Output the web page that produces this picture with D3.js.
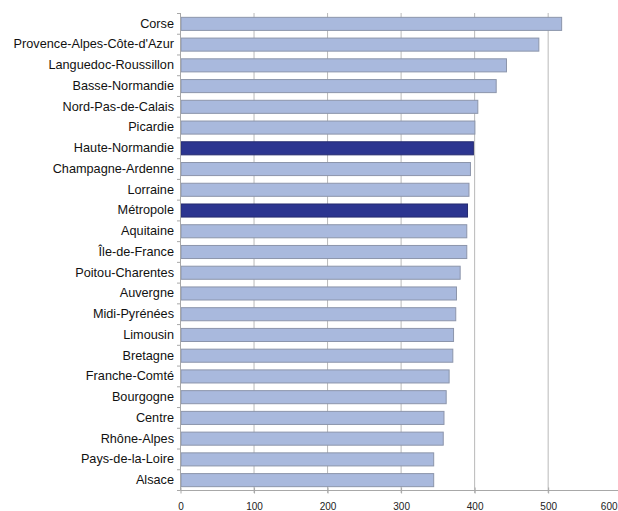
<!DOCTYPE html>
<html>
<head>
<meta charset="utf-8">
<script src="https://cdn.jsdelivr.net/npm/d3@7/dist/d3.min.js"></script>
<style>
  html, body { margin: 0; padding: 0; background: #fff; overflow: hidden; }
  svg { display: block; }
</style>
</head>
<body>
<svg id="chart" width="618" height="511"></svg>
<script>
// Regions, in display order (top to bottom)
const regions = [
  "Corse", "Provence-Alpes-Côte-d'Azur", "Languedoc-Roussillon", "Basse-Normandie",
  "Nord-Pas-de-Calais", "Picardie", "Haute-Normandie", "Champagne-Ardenne",
  "Lorraine", "Métropole", "Aquitaine", "Île-de-France", "Poitou-Charentes",
  "Auvergne", "Midi-Pyrénées", "Limousin", "Bretagne", "Franche-Comté",
  "Bourgogne", "Centre", "Rhône-Alpes", "Pays-de-la-Loire", "Alsace"
];
const values = [
  519, 488, 444, 430,
  405, 401, 399, 395,
  393, 391, 390, 390, 381,
  376, 375, 372, 371, 366,
  362, 359, 358, 345, 345
];
// Regions drawn in the dark highlight colour
const highlighted = ["Haute-Normandie", "Métropole"];
const xTicks = [0, 100, 200, 300, 400, 500, 600];

const svg = d3.select("#chart");
const margin = { left: 180, top: 13, right: 0, bottom: 21 };
const W = 618, H = 511;

const x = d3.scaleLinear().domain([0, 600]).range([margin.left, margin.left + 441.2]);
const y = d3.scaleBand().domain(regions)
  .range([margin.top, H - margin.bottom])
  .paddingInner(0.37).paddingOuter(0.185);

const y0 = margin.top, y1 = H - margin.bottom;

// vertical gridlines
svg.append("g").selectAll("line")
  .data(xTicks.filter(t => t > 0))
  .join("line")
  .attr("x1", d => x(d) + 0.5).attr("x2", d => x(d) + 0.5)
  .attr("y1", y0).attr("y2", y1 + 3)
  .attr("stroke", "#b9b9b9").attr("stroke-width", 1);

// bars
svg.append("g").selectAll("rect")
  .data(regions)
  .join("rect")
  .attr("x", x(0) + 1)
  .attr("y", d => y(d) + 0.5)
  .attr("width", (d, i) => x(values[i]) - x(0) - 1)
  .attr("height", y.bandwidth())
  .attr("fill", d => highlighted.includes(d) ? "#2c3590" : "#a9b9dd")
  .attr("stroke", d => highlighted.includes(d) ? "#262c70" : "#8c95ab")
  .attr("stroke-width", 1);

// left axis line with category separators
const left = svg.append("g");
left.append("line")
  .attr("x1", x(0) + 0.5).attr("x2", x(0) + 0.5)
  .attr("y1", y0).attr("y2", y1)
  .attr("stroke", "#a8a8a8");
left.selectAll("line.sep")
  .data(d3.range(regions.length + 1))
  .join("line").attr("class", "sep")
  .attr("x1", x(0) - 3).attr("x2", x(0) + 0.5)
  .attr("y1", i => y0 + i * (y1 - y0) / regions.length + 0.5)
  .attr("y2", i => y0 + i * (y1 - y0) / regions.length + 0.5)
  .attr("stroke", "#a8a8a8");

// category labels
left.selectAll("text")
  .data(regions)
  .join("text")
  .attr("x", x(0) - 6)
  .attr("y", d => y(d) + y.bandwidth() / 2 + 1)
  .attr("text-anchor", "end")
  .attr("dominant-baseline", "middle")
  .attr("font-family", "Liberation Sans, Arial, sans-serif")
  .attr("font-size", 12.7)
  .attr("fill", "#111")
  .text(d => d);

// bottom axis
const xAxis = d3.axisBottom(x).tickValues(xTicks).tickSize(3).tickFormat(d3.format("d"));
const gx = svg.append("g").attr("transform", `translate(0.5,${y1 + 0.5})`).call(xAxis);
gx.select(".domain").attr("stroke", "#a8a8a8").attr("d", `M${x(0)},-3V0H${W}`);
gx.selectAll(".tick line").attr("stroke", "#a8a8a8").attr("y1", -3);
gx.selectAll(".tick text")
  .attr("y", 0)
  .attr("dy", "19px")
  .attr("font-family", "Liberation Sans, Arial, sans-serif")
  .attr("font-size", 10)
  .attr("fill", "#222");
// keep the last tick label inside the right edge
gx.selectAll(".tick").filter(d => d === 600).select("text")
  .attr("text-anchor", "end")
  .attr("x", W - 1.5 - x(600));
</script>
</body>
</html>
